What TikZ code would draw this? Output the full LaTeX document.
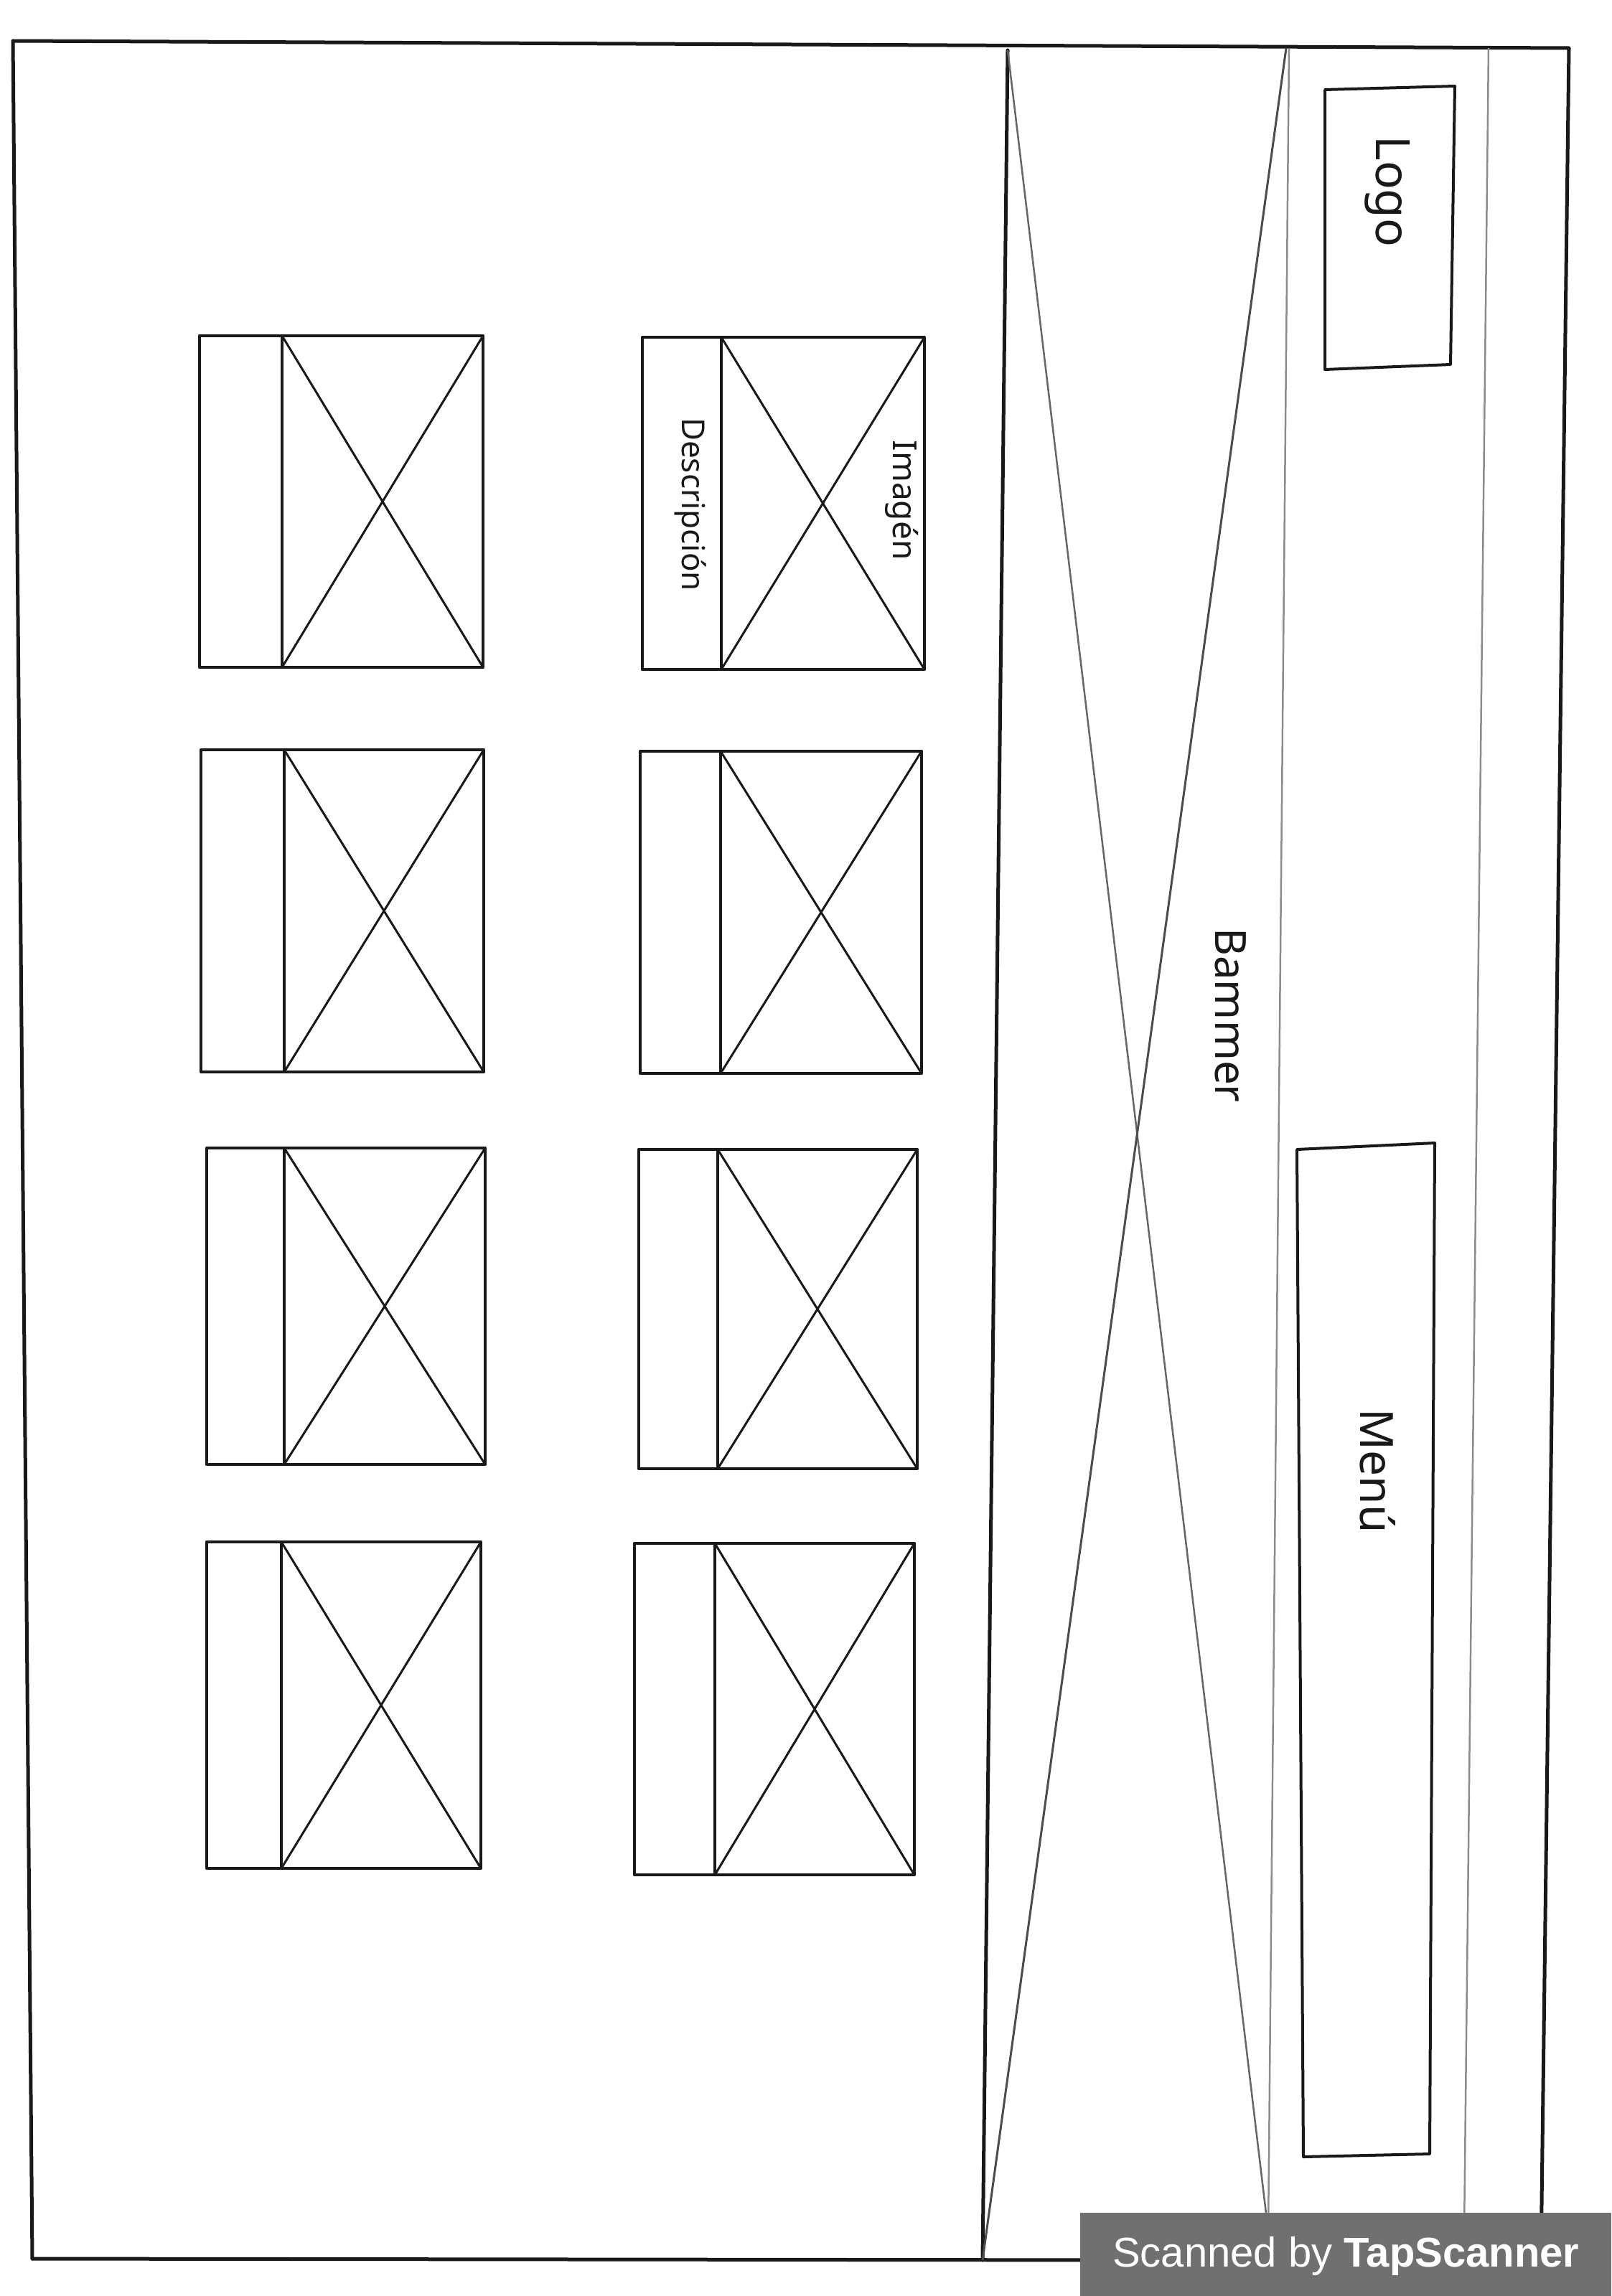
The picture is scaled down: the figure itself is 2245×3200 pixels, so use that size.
\documentclass[tikz,border=0pt]{standalone}
\usepackage{fontspec}
\newfontfamily\badgefont{Liberation Sans}
\newfontfamily\handfont{Noto Sans}
\definecolor{badgegray}{RGB}{112,112,112}
\definecolor{ink}{RGB}{25,25,25}
\newcommand\wfcard[6]{% name, left, divider, right, top, bottom
  \coordinate (#1-tl) at (#2,#5);
  \coordinate (#1-dt) at (#3,#5);
  \coordinate (#1-tr) at (#4,#5);
  \coordinate (#1-br) at (#4,#6);
  \coordinate (#1-db) at (#3,#6);
  \coordinate (#1-bl) at (#2,#6);
  \draw[cardline] (#1-tl) -- (#1-tr) -- (#1-br) -- (#1-bl) -- cycle;
  \draw[cardline] (#1-dt) -- (#1-db);
  \draw[xline] (#1-dt) -- (#1-br);
  \draw[xline] (#1-db) -- (#1-tr);
}
\begin{document}
\begin{tikzpicture}[x=1pt,y=-1pt,
  frameline/.style={line width=5pt, draw=ink, line cap=round, line join=round},
  cardline/.style={line width=4.5pt, draw=ink, line join=round},
  xline/.style={line width=3pt, draw=ink},
  thinline/.style={line width=2.5pt, draw=black!45},
  diagline/.style={line width=2.5pt, draw=black!60},
  boxline/.style={line width=4pt, draw=ink, line join=round},
  hand/.style={rotate=-90, text=ink, inner sep=0pt},
]
\fill[white] (0,0) rectangle (2245,3200);
\useasboundingbox (0,0) rectangle (2245,3200);

% outer frame
\coordinate (ftl) at (18,57);
\coordinate (ftr) at (2186,67);
\coordinate (fbr) at (2147,3150);
\coordinate (fbl) at (45,3148);
\draw[frameline] (fbl) -- (ftl) -- (ftr) -- (fbr);
\draw[frameline] (fbl) -- (1600,3150);

% banner
\coordinate (btl) at (1404,70);
\coordinate (bbl) at (1369,3150);
\coordinate (btr) at (1796,68);
\coordinate (bbr) at (1767,3110);
\draw[frameline] (btl) -- (bbl);
\draw[thinline] (btr) -- (bbr);
\draw[diagline] (btl) -- (bbr);
\draw[diagline, line width=3pt, draw=black!70] (1792,67) -- (bbl);

% thin right line
\coordinate (rtt) at (2074,67);
\coordinate (rtb) at (2040,3110);
\draw[thinline] (rtt) -- (rtb);

% logo box
\coordinate (lg1) at (1846,125);
\coordinate (lg2) at (2027,120);
\coordinate (lg3) at (2021,508);
\coordinate (lg4) at (1846,515);
\draw[boxline] (lg1) -- (lg2) -- (lg3) -- (lg4) -- cycle;
\node[hand, font=\handfont\fontsize{66}{72}\selectfont] (logo) at (1933,267) {Logo};

% menu box
\coordinate (mn1) at (1807,1602);
\coordinate (mn2) at (1999,1593);
\coordinate (mn3) at (1992,3002);
\coordinate (mn4) at (1816,3006);
\draw[boxline] (mn1) -- (mn2) -- (mn3) -- (mn4) -- cycle;
\node[hand, font=\handfont\fontsize{64}{72}\selectfont] (menu) at (1920,2050) {Menú};

% banner label
\node[hand, font=\handfont\fontsize{60}{66}\selectfont] (bammer) at (1715,1415) {Bammer};

% cards
\wfcard{c1}{278}{393}{673}{468}{930}
\wfcard{c2}{895}{1005}{1288}{470}{933}
\wfcard{c3}{280}{396}{674}{1045}{1494}
\wfcard{c4}{892}{1004}{1284}{1047}{1496}
\wfcard{c5}{288}{396}{676}{1600}{2041}
\wfcard{c6}{890}{1000}{1278}{1602}{2047}
\wfcard{c7}{288}{392}{670}{2149}{2604}
\wfcard{c8}{884}{996}{1274}{2151}{2613}

\node[hand, font=\handfont\fontsize{44}{50}\selectfont] (desc) at (962,703) {Descripción};
\node[hand, font=\handfont\fontsize{46}{52}\selectfont] (img) at (1257,697) {Imagén};

% scanner badge
\node[fill=badgegray, anchor=north west, minimum width=740pt, minimum height=116pt, inner sep=0pt] (badge) at (1505,3084) {};
\node[anchor=base west, text=white, inner sep=0pt, font=\badgefont\fontsize{58}{62}\selectfont] (badgetext) at (1550,3159) {Scanned by \textbf{TapScanner}};
\end{tikzpicture}
\end{document}
